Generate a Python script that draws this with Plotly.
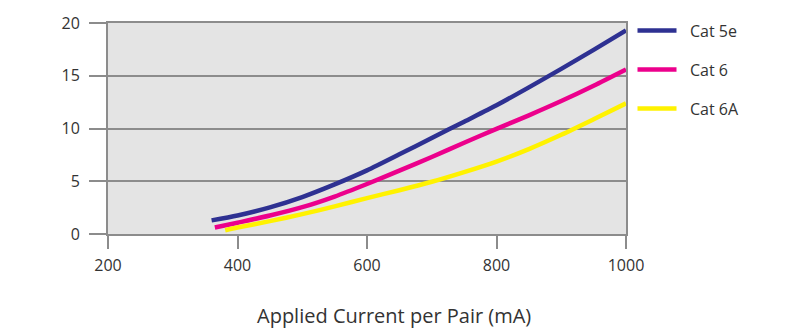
import plotly.graph_objects as go

# Data
cat5e_x = [360, 400, 450, 500, 550, 600, 650, 700, 750, 800, 850, 900, 950, 1000]
cat5e_y = [1.29, 1.75, 2.52, 3.5, 4.7, 6.03, 7.55, 9.1, 10.65, 12.2, 13.9, 15.65, 17.45, 19.3]

cat6_x = [365, 400, 450, 500, 550, 600, 650, 700, 750, 800, 850, 900, 950, 1000]
cat6_y = [0.61, 1.07, 1.75, 2.54, 3.55, 4.74, 6.0, 7.3, 8.65, 9.97, 11.25, 12.6, 14.05, 15.59]

cat6a_x = [381, 400, 450, 500, 550, 600, 650, 700, 750, 800, 850, 900, 950, 1000]
cat6a_y = [0.36, 0.61, 1.22, 1.88, 2.62, 3.4, 4.15, 4.95, 5.87, 6.87, 8.05, 9.4, 10.87, 12.38]

series_names = ["Cat 5e", "Cat 6", "Cat 6A"]
series_colors = ["#2e3192", "#ec008c", "#fff200"]

x_ticks = [200, 400, 600, 800, 1000]
y_ticks = [0, 5, 10, 15, 20]
x_title = "Applied Current per Pair (mA)"

GRID = "#8c8c8c"
TEXT = "#333333"
FONT = "Open Sans"

# plot area geometry (pixels)
L, R, T, B = 108, 174, 20, 100
PW = 800 - L - R
PH = 334 - T - B


def px_x(px):
    return (px - L) / PW


def px_y(py):
    return (334 - B - py) / PH


fig = go.Figure()
for name, xs, ys, col in zip(series_names,
                             [cat5e_x, cat6_x, cat6a_x],
                             [cat5e_y, cat6_y, cat6a_y],
                             series_colors):
    fig.add_trace(go.Scatter(x=xs, y=ys, name=name, mode="lines",
                             line=dict(color=col, width=4.5, shape="spline", smoothing=0.7),
                             showlegend=False))

fig.update_layout(
    width=800, height=334,
    margin=dict(l=L, r=R, t=T, b=B, pad=0),
    paper_bgcolor="white",
    plot_bgcolor="#e4e4e4",
    font=dict(family=FONT, size=16, color=TEXT),
    showlegend=False,
    xaxis=dict(range=[200, 1000], tickvals=x_ticks, ticktext=[str(v) for v in x_ticks],
               showgrid=False, zeroline=False,
               showline=True, mirror=True, linecolor=GRID, linewidth=2,
               ticks="outside", ticklen=13, tickwidth=2, tickcolor=GRID,
               ticklabelstandoff=3,
               tickfont=dict(family=FONT, size=16, color=TEXT)),
    yaxis=dict(range=[0, 20], tickvals=y_ticks, ticktext=[str(v) for v in y_ticks],
               showgrid=True, gridcolor=GRID, gridwidth=2, zeroline=False,
               showline=True, mirror=True, linecolor=GRID, linewidth=2,
               ticks="outside", ticklen=17, tickwidth=2, tickcolor=GRID,
               ticklabelstandoff=6,
               tickfont=dict(family=FONT, size=16, color=TEXT)),
)

# legend drawn as swatches + text
legend_rows = [27.7, 67.2, 106.8]
for name, col, ry in zip(series_names, series_colors, legend_rows):
    fig.add_shape(type="line", xref="paper", yref="paper",
                  x0=px_x(637.5), x1=px_x(676.5), y0=px_y(ry), y1=px_y(ry),
                  line=dict(color=col, width=4.5))
    fig.add_annotation(text=name, xref="paper", yref="paper",
                       x=px_x(688), y=px_y(ry), xanchor="left", yanchor="middle",
                       showarrow=False, font=dict(family=FONT, size=16, color=TEXT))

fig.add_annotation(text=x_title, xref="paper", yref="paper",
                   x=px_x(394), y=px_y(317),
                   xanchor="center", yanchor="middle", showarrow=False,
                   font=dict(family=FONT, size=20, color=TEXT))

fig.write_html("out.html")
